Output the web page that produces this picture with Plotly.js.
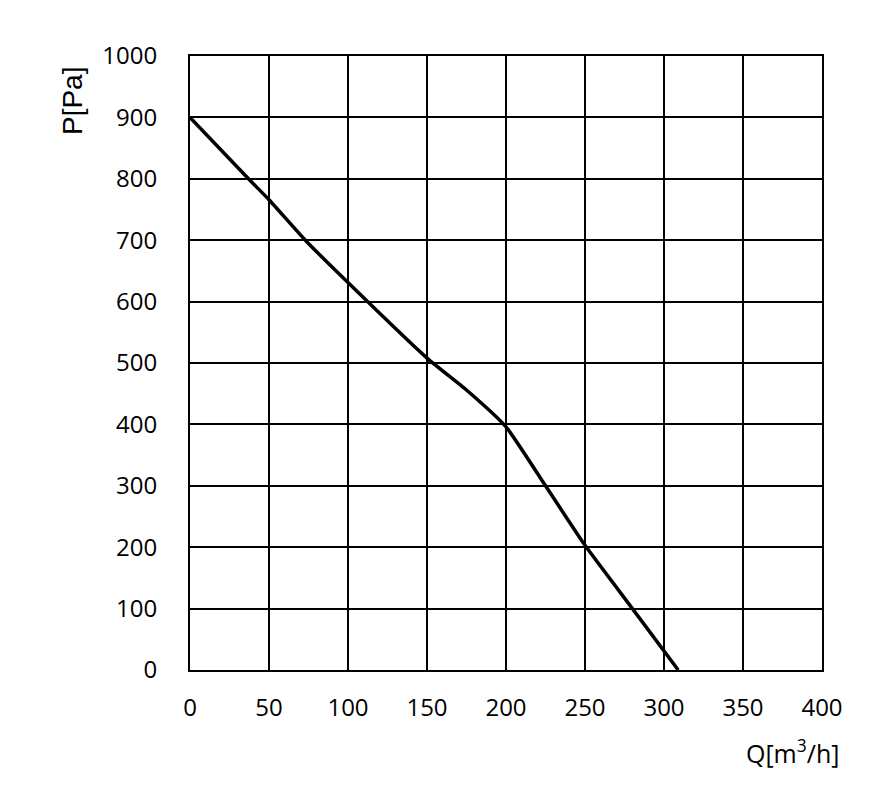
<!DOCTYPE html>
<html>
<head>
<meta charset="utf-8">
<script src="https://cdn.plot.ly/plotly-3.0.1.min.js"></script>
<style>
  html, body { margin: 0; padding: 0; background: #fff; }
  #chart { width: 893px; height: 785px; }
</style>
</head>
<body>
<div id="chart"></div>
<script>
// fan curve: flow Q [m3/h] vs static pressure P [Pa]
const flowQ = [0, 37, 50, 73, 100, 150, 175, 200, 225, 250, 280, 309];
const pressureP = [900, 800, 766, 700, 631, 508, 456, 396, 300, 203, 100, 0];

const xTicks = [0, 50, 100, 150, 200, 250, 300, 350, 400];
const yTicks = [0, 100, 200, 300, 400, 500, 600, 700, 800, 900, 1000];

const tickFont = { family: 'Open Sans, sans-serif', size: 24, color: '#000' };

Plotly.newPlot('chart', [{
  x: flowQ,
  y: pressureP,
  type: 'scatter',
  mode: 'lines',
  line: { color: '#000', width: 3.5, shape: 'spline', smoothing: 0.5 },
  hoverinfo: 'skip'
}], {
  width: 893,
  height: 785,
  margin: { l: 190, r: 71, t: 56, b: 115 },
  paper_bgcolor: '#fff',
  plot_bgcolor: '#fff',
  showlegend: false,
  xaxis: {
    range: [0, 400],
    tickvals: xTicks,
    ticktext: xTicks.map(String),
    showgrid: true,
    gridcolor: '#000',
    gridwidth: 2,
    showline: true,
    linecolor: '#000',
    linewidth: 2,
    mirror: true,
    zeroline: false,
    ticks: '',
    ticklabelstandoff: 15,
    tickfont: tickFont,
    fixedrange: true
  },
  yaxis: {
    range: [0, 1000],
    tickvals: yTicks,
    ticktext: yTicks.map(String),
    showgrid: true,
    gridcolor: '#000',
    gridwidth: 2,
    showline: true,
    linecolor: '#000',
    linewidth: 2,
    mirror: true,
    zeroline: false,
    ticks: '',
    ticklabelstandoff: 26,
    tickfont: tickFont,
    fixedrange: true
  },
  annotations: [
    {
      text: 'P[Pa]',
      xref: 'paper', yref: 'paper',
      x: -0.187, y: 0.985,
      xanchor: 'center', yanchor: 'top',
      textangle: -90,
      showarrow: false,
      font: { family: 'Liberation Sans, Arial, sans-serif', size: 28, color: '#000' }
    },
    {
      text: 'Q[m<sup>3</sup>/h]',
      xref: 'paper', yref: 'paper',
      x: 1.03, y: -0.1,
      xanchor: 'right', yanchor: 'top',
      showarrow: false,
      font: { family: 'Open Sans, sans-serif', size: 25, color: '#000' }
    }
  ]
}, { displayModeBar: false, staticPlot: true });
</script>
</body>
</html>
